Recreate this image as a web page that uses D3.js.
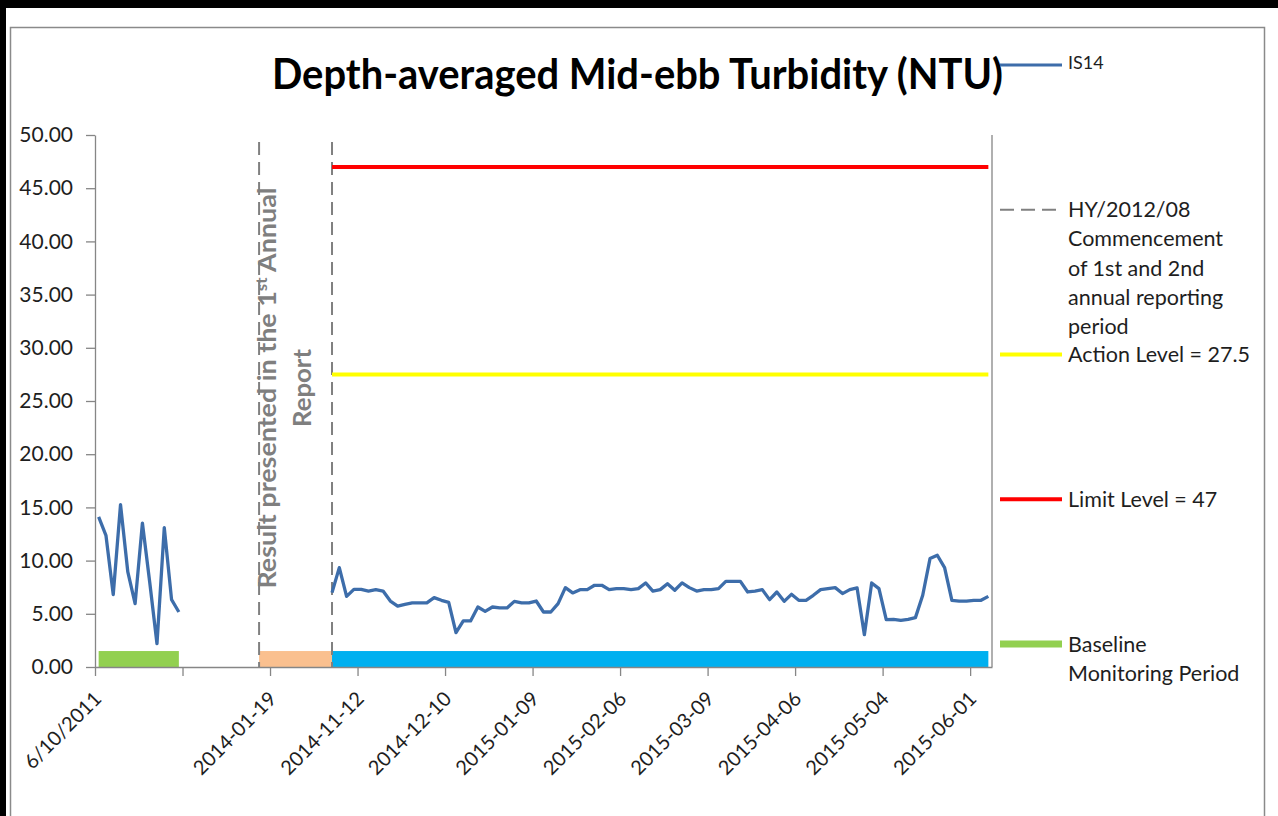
<!DOCTYPE html>
<html>
<head>
<meta charset="utf-8">
<script src="https://cdn.jsdelivr.net/npm/d3@7"></script>
<style>
  body { margin: 0; background: #fff; }
  svg { display: block; }
  text { font-family: Lato, "Open Sans", sans-serif; }
</style>
</head>
<body>
<svg id="chart" width="1278" height="816"></svg>
<script>
// ---- data ---------------------------------------------------------------
// One category slot per sampling occasion; labels shown every 12th slot.
const categoryCount = 123;
const tickEvery = 12;
const tickLabels = ["6/10/2011", "", "2014-01-19", "2014-11-12", "2014-12-10",
  "2015-01-09", "2015-02-06", "2015-03-09", "2015-04-06", "2015-05-04", "2015-06-01"];
const yTicks = [0, 5, 10, 15, 20, 25, 30, 35, 40, 45, 50];

// IS14 baseline monitoring (slots 0-11)
const baselineStart = 0;
const baselineValues = [14.10, 12.38, 6.80, 15.26, 8.93, 5.96, 13.53, 7.99, 2.19, 13.10, 6.33, 5.17];

// IS14 impact monitoring (slots 32-122)
const monitoringStart = 32;
const monitoringValues = [
  6.99, 9.34, 6.64, 7.30, 7.30, 7.14, 7.27, 7.14, 6.20, 5.73,
  5.89, 6.02, 6.02, 6.02, 6.52, 6.27, 6.08, 3.23, 4.33, 4.33,
  5.64, 5.23, 5.64, 5.55, 5.55, 6.17, 6.02, 6.02, 6.20, 5.17,
  5.17, 5.96, 7.46, 6.96, 7.27, 7.27, 7.68, 7.68, 7.27, 7.37,
  7.37, 7.27, 7.37, 7.90, 7.14, 7.27, 7.83, 7.21, 7.90, 7.46,
  7.14, 7.27, 7.27, 7.37, 8.05, 8.05, 8.05, 7.05, 7.14, 7.27,
  6.33, 7.05, 6.17, 6.83, 6.27, 6.27, 6.74, 7.27, 7.37, 7.46,
  6.90, 7.27, 7.43, 3.04, 7.90, 7.37, 4.45, 4.48, 4.39, 4.48,
  4.64, 6.74, 10.19, 10.50, 9.34, 6.27, 6.20, 6.20, 6.27, 6.27,
  6.64
];

// Action / Limit levels, drawn over the impact monitoring slots
const actionLevel = 27.5;
const limitLevel = 47;
const levelFrom = 32;
const levelTo = 122;

// Commencement markers (slot indices)
const commencementSlots = [22, 32];

// Period bars along the axis
const periodNames = ["baseline", "firstReport", "current"];
const periodFrom = [0, 22, 32];
const periodTo = [11, 32, 122];
const periodHeight = [1.5, 1.5, 1.5];

// Legend
const legendKeys = ["series", "marker", "action", "limit", "baseline"];
const legendLabels = [
  ["IS14"],
  ["HY/2012/08", "Commencement", "of 1st and 2nd", "annual reporting", "period"],
  ["Action Level = 27.5"],
  ["Limit Level = 47"],
  ["Baseline", "Monitoring Period"]
];

// ---- styles ---------------------------------------------------------------
const seriesColor = "#3D6DAA";
const periodColor = { baseline: "#92D050", firstReport: "#FAC08F", current: "#00B0F0" };
const axisColor = "#868686";
const textColor = "#1e1e1e";
const markerColor = "#808080";

// ---- layout ---------------------------------------------------------------
const svg = d3.select("#chart");
const plot = { left: 95, right: 992, top: 135, bottom: 667 };

const x = d3.scaleBand().domain(d3.range(categoryCount)).range([plot.left, plot.right]).padding(0);
const xEdge = d3.scaleLinear().domain([0, categoryCount]).range([plot.left, plot.right]);
const cx = i => x(i) + x.bandwidth() / 2;
const y = d3.scaleLinear().domain([0, 50]).range([plot.bottom, plot.top]);

// ---- frame ---------------------------------------------------------------
svg.append("rect").attr("x", 0).attr("y", 0).attr("width", 1278).attr("height", 816).attr("fill", "#fff");
svg.append("rect").attr("x", 0).attr("y", 0).attr("width", 6).attr("height", 816).attr("fill", "#000");
svg.append("rect").attr("x", 0).attr("y", 0).attr("width", 1278).attr("height", 8).attr("fill", "#000");
svg.append("path")
  .attr("d", "M10.5,816V27.5H1264.5V816")
  .attr("fill", "none").attr("stroke", "#8a8a8a").attr("stroke-width", 1.5);

// ---- title ---------------------------------------------------------------
svg.append("text")
  .attr("x", 272).attr("y", 89)
  .attr("textLength", 731).attr("lengthAdjust", "spacingAndGlyphs")
  .attr("font-size", 42).attr("font-weight", "bold").attr("fill", "#000")
  .text("Depth-averaged Mid-ebb Turbidity (NTU)");

// ---- period bars ---------------------------------------------------------
svg.append("g").selectAll("rect")
  .data(periodNames)
  .join("rect")
  .attr("x", (d, k) => cx(periodFrom[k]))
  .attr("width", (d, k) => cx(periodTo[k]) - cx(periodFrom[k]))
  .attr("y", (d, k) => y(periodHeight[k]))
  .attr("height", (d, k) => y(0) - y(periodHeight[k]))
  .attr("fill", d => periodColor[d]);

// ---- axes ----------------------------------------------------------------
const yAxis = svg.append("g")
  .attr("transform", `translate(${plot.left},0)`)
  .call(d3.axisLeft(y).tickValues(yTicks).tickFormat(d3.format(".2f"))
    .tickSize(9).tickSizeOuter(0).tickPadding(13));
yAxis.select(".domain").attr("stroke", axisColor).attr("stroke-width", 1.3);
yAxis.selectAll(".tick line").attr("stroke", axisColor).attr("stroke-width", 1.3);
yAxis.selectAll(".tick text").attr("font-size", 21).attr("fill", textColor)
  .attr("font-family", "Lato, sans-serif");

const xAxis = svg.append("g")
  .attr("transform", `translate(0,${plot.bottom})`)
  .call(d3.axisBottom(xEdge).tickValues(d3.range(0, categoryCount, tickEvery))
    .tickFormat("").tickSize(9).tickSizeOuter(0));
xAxis.select(".domain").attr("stroke", axisColor).attr("stroke-width", 1.3);
xAxis.selectAll(".tick line").attr("stroke", axisColor).attr("stroke-width", 1.3);

svg.append("g").selectAll("text")
  .data(tickLabels)
  .join("text")
  .attr("transform", (d, k) => `translate(${cx(k * tickEvery) + 4},${plot.bottom + 33}) rotate(-45)`)
  .attr("text-anchor", "end")
  .attr("font-size", 20).attr("fill", textColor)
  .text(d => d);

// right edge of plot area
svg.append("line")
  .attr("x1", plot.right).attr("x2", plot.right)
  .attr("y1", y(50)).attr("y2", y(0))
  .attr("stroke", axisColor).attr("stroke-width", 1.3);

// ---- commencement markers --------------------------------------------------
svg.append("g").selectAll("line")
  .data(commencementSlots)
  .join("line")
  .attr("x1", d => cx(d)).attr("x2", d => cx(d))
  .attr("y1", y(50)).attr("y2", y(0))
  .attr("stroke", markerColor).attr("stroke-width", 2)
  .attr("stroke-dasharray", "13,7").attr("stroke-dashoffset", 13);

// rotated note between the markers
const note = svg.append("g").attr("fill", "#7F7F7F").attr("font-size", 24).attr("font-weight", "bold");
const noteMid = (y(0) + y(50)) / 2 - 13;
const note1 = note.append("text")
  .attr("transform", `translate(${cx(commencementSlots[0]) + 17},${noteMid}) rotate(-90)`)
  .attr("text-anchor", "middle")
  .attr("textLength", 401).attr("lengthAdjust", "spacingAndGlyphs");
note1.append("tspan").text("Result presented in the 1");
note1.append("tspan").attr("baseline-shift", "super").attr("font-size", 15).text("st");
note1.append("tspan").text(" Annual");
note.append("text")
  .attr("transform", `translate(${cx(commencementSlots[0]) + 52},${noteMid}) rotate(-90)`)
  .attr("text-anchor", "middle")
  .attr("textLength", 78).attr("lengthAdjust", "spacingAndGlyphs")
  .text("Report");

// ---- level lines -----------------------------------------------------------
svg.append("line")
  .attr("x1", cx(levelFrom)).attr("x2", cx(levelTo))
  .attr("y1", y(limitLevel)).attr("y2", y(limitLevel))
  .attr("stroke", "#FF0000").attr("stroke-width", 4);
svg.append("line")
  .attr("x1", cx(levelFrom)).attr("x2", cx(levelTo))
  .attr("y1", y(actionLevel)).attr("y2", y(actionLevel))
  .attr("stroke", "#FFFF00").attr("stroke-width", 4);

// ---- IS14 series -----------------------------------------------------------
const line = d3.line().x(d => cx(d.i)).y(d => y(d.v));
const segments = [
  baselineValues.map((v, k) => ({ i: baselineStart + k, v })),
  monitoringValues.map((v, k) => ({ i: monitoringStart + k, v }))
];
svg.append("g").selectAll("path")
  .data(segments)
  .join("path")
  .attr("d", line)
  .attr("fill", "none")
  .attr("stroke", seriesColor).attr("stroke-width", 3.3)
  .attr("stroke-linejoin", "round");

// ---- legend ----------------------------------------------------------------
const legendY = d3.scaleLinear().domain([0, legendKeys.length - 1]).range([65, 644]);
const legend = svg.append("g");
const markerX0 = 1000, markerX1 = 1062, labelX = 1068;
const markerStyle = {
  series:   { stroke: seriesColor, width: 3, dash: null },
  marker:   { stroke: markerColor, width: 2, dash: "14,7" },
  action:   { stroke: "#FFFF00", width: 4, dash: null },
  limit:    { stroke: "#FF0000", width: 4, dash: null },
  baseline: { stroke: periodColor.baseline, width: 7, dash: null }
};
legendKeys.forEach((key, k) => {
  const yy = legendY(k);
  const s = markerStyle[key];
  legend.append("line")
    .attr("x1", markerX0).attr("x2", markerX1)
    .attr("y1", yy).attr("y2", yy)
    .attr("stroke", s.stroke).attr("stroke-width", s.width)
    .attr("stroke-dasharray", s.dash);
  const small = key === "series";
  legend.append("text")
    .attr("x", labelX).attr("y", yy)
    .attr("font-size", small ? 18 : 21.5)
    .attr("fill", textColor)
    .selectAll("tspan")
    .data(legendLabels[k])
    .join("tspan")
    .attr("x", labelX)
    .attr("dy", (d, j) => j === 0 ? (small ? "0.2em" : "0.35em") : 29.2)
    .text(d => d);
});
</script>
</body>
</html>
